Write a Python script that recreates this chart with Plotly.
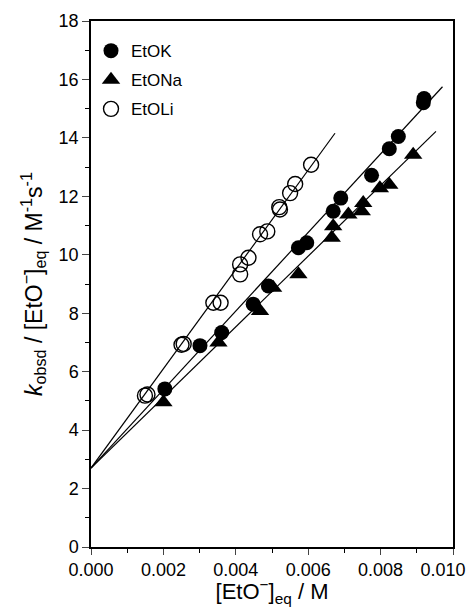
import plotly.graph_objects as go

# ---- data ----
k_x = [0.00204, 0.00301, 0.00361, 0.00448, 0.00490, 0.00573, 0.00596, 0.00669, 0.00690,
       0.00775, 0.00824, 0.00849, 0.00918, 0.00920]
k_y = [5.41, 6.89, 7.34, 8.31, 8.93, 10.24, 10.41, 11.49, 11.94,
       12.72, 13.63, 14.05, 15.20, 15.35]

na_x = [0.00200, 0.00352, 0.00467, 0.00503, 0.00573, 0.00665, 0.00669, 0.00711, 0.00748,
        0.00752, 0.00798, 0.00824, 0.00890]
na_y = [4.95, 7.00, 8.08, 8.87, 9.33, 10.58, 10.98, 11.38, 11.49,
        11.77, 12.28, 12.40, 13.42]

li_x = [0.00149, 0.00156, 0.00250, 0.00256, 0.00338, 0.00358, 0.00412, 0.00412, 0.00435,
        0.00467, 0.00487, 0.00520, 0.00522, 0.00550, 0.00564, 0.00608]
li_y = [5.18, 5.22, 6.92, 6.95, 8.36, 8.36, 9.33, 9.67, 9.90,
        10.70, 10.80, 11.63, 11.55, 12.11, 12.42, 13.08]

# fitted lines: shared intercept, (slope, x end)
fit_intercept = 2.70
fit_k = (1344, 0.00971)
fit_na = (1209, 0.00953)
fit_li = (1700, 0.00674)

names = ["EtOK", "EtONa", "EtOLi"]
x_ticks = [0, 0.002, 0.004, 0.006, 0.008, 0.010]
x_tick_labels = ["0.000", "0.002", "0.004", "0.006", "0.008", "0.010"]

fig = go.Figure()

for slope, xend in (fit_k, fit_na, fit_li):
    xs = [0.0, xend]
    fig.add_trace(go.Scatter(x=xs, y=[fit_intercept + slope * v for v in xs], mode="lines",
                             line=dict(color="black", width=1.2), showlegend=False,
                             hoverinfo="skip"))

fig.add_trace(go.Scatter(x=k_x, y=k_y, mode="markers", name=names[0], legendgroup="a",
                         marker=dict(symbol="circle", size=15, color="black",
                                     line=dict(width=0))))
fig.add_trace(go.Scatter(x=na_x, y=na_y, mode="markers", name=names[1], legendgroup="b",
                         marker=dict(symbol="triangle-up", size=16, color="black",
                                     line=dict(width=0))))
fig.add_trace(go.Scatter(x=li_x, y=li_y, mode="markers", name=names[2], legendgroup="c",
                         marker=dict(symbol="circle-open", size=15, color="black",
                                     line=dict(width=1.4, color="black"))))

font_family = "Liberation Sans, Arial, sans-serif"

# last tick label is nudged left (as in the reference) so it stays inside the page
shown_labels = x_tick_labels[:-1] + [x_tick_labels[-1] + "\u00a0" * 4]

fig.update_layout(
    width=466, height=607,
    margin=dict(l=91, r=13, t=21, b=60, autoexpand=False),
    paper_bgcolor="white", plot_bgcolor="white",
    font=dict(family=font_family, color="black", size=18),
    legend=dict(x=0.0, y=0.977, xanchor="left", yanchor="top", tracegroupgap=4,
                bgcolor="rgba(0,0,0,0)", font=dict(size=17), itemwidth=30),
    xaxis=dict(
        range=[0, 0.0100001], tickvals=x_ticks, ticktext=shown_labels,
        ticklabeloverflow="allow", automargin=False,
        ticks="outside", ticklen=6, tickwidth=1.3,
        showline=True, linecolor="black", linewidth=1.5, mirror=True,
        showgrid=False, zeroline=False,
        minor=dict(dtick=0.001, ticks="outside", ticklen=4, tickwidth=1.3, tickcolor="black"),
        title=dict(text="[EtO<sup>−</sup>]<sub>eq</sub> / M", font=dict(size=22), standoff=2),
    ),
    yaxis=dict(
        range=[0, 18], dtick=2, ticks="outside", ticklen=7, tickwidth=1.3, automargin=False,
        showline=True, linecolor="black", linewidth=1.5, mirror=True,
        showgrid=False, zeroline=False,
        minor=dict(dtick=1, ticks="outside", ticklen=4, tickwidth=1.3, tickcolor="black"),
        title=dict(text="<i>k</i><sub>obsd</sub> / [EtO<sup>−</sup>]<sub>eq</sub> / M<sup>-1</sup>s<sup>-1</sup>",
                   font=dict(size=23), standoff=10),
    ),
)

fig.write_html("out.html", config={"displayModeBar": False},
               post_script="document.body.style.margin='0';")
